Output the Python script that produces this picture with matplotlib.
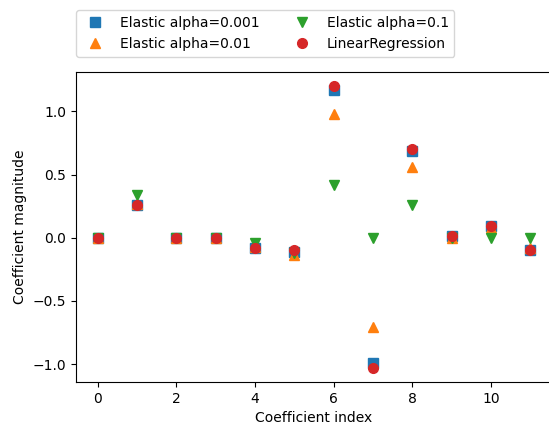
import matplotlib
matplotlib.use("Agg")
import matplotlib.pyplot as plt
import numpy as np

# coefficient values
idx = np.arange(12)
elastic_0001 = [0.0, 0.26, 0.0, 0.0, -0.08, -0.11, 1.17, -0.99, 0.69, 0.01, 0.09, -0.10]
elastic_001 = [0.0, 0.27, 0.0, 0.0, -0.07, -0.14, 0.98, -0.71, 0.56, 0.0, 0.08, -0.08]
elastic_01 = [0.0, 0.34, 0.0, 0.0, -0.04, -0.12, 0.42, 0.0, 0.26, 0.0, 0.0, 0.0]
linreg = [0.0, 0.26, 0.0, 0.0, -0.08, -0.10, 1.20, -1.03, 0.70, 0.01, 0.09, -0.10]

fig = plt.figure(figsize=(5.49, 4.29), dpi=100)
# right edge of the axes runs slightly past the image, as in the reference
ax = fig.add_axes([76 / 549, 47 / 429, 476 / 549, 310 / 429])

ms = 7
ax.plot(idx, elastic_0001, 's', ms=ms, label="Elastic alpha=0.001")
ax.plot(idx, elastic_001, '^', ms=ms, label="Elastic alpha=0.01")
ax.plot(idx, elastic_01, 'v', ms=ms, label="Elastic alpha=0.1")
ax.plot(idx, linreg, 'o', ms=ms, label="LinearRegression")

ax.set_xlabel("Coefficient index")
ax.set_ylabel("Coefficient magnitude")
ax.legend(ncol=2, loc=(0, 1.05))

fig.savefig("out.png", dpi=100)
